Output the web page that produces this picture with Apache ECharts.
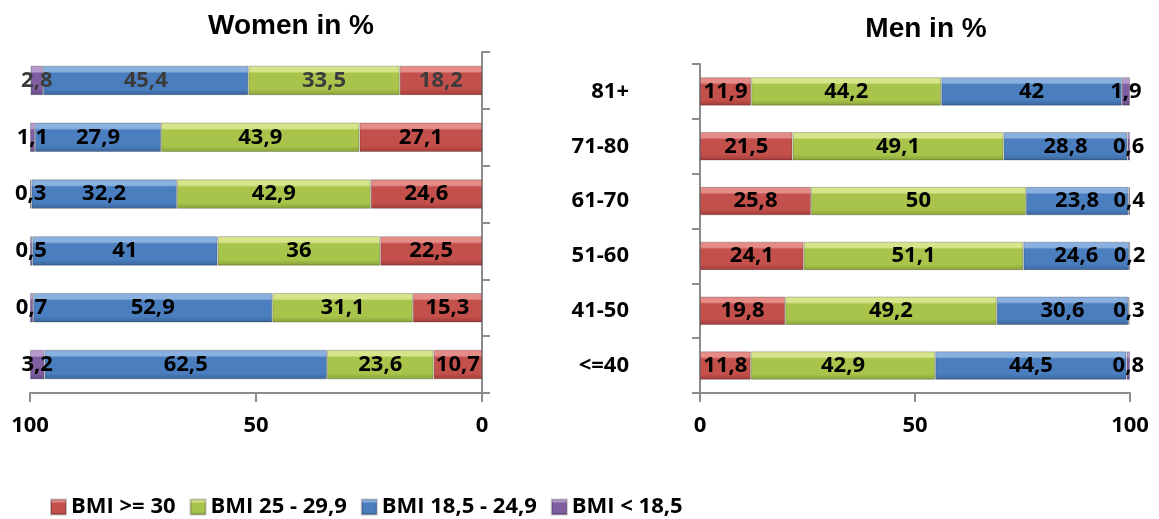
<!DOCTYPE html>
<html>
<head>
<meta charset="utf-8">
<script src="https://cdn.jsdelivr.net/npm/echarts@6/dist/echarts.min.js"></script>
<style>
html,body{margin:0;padding:0;background:#fff;}
#c{width:1159px;height:519px;}
</style>
</head>
<body>
<div id="c"></div>
<script>
var categories = ['<=40', '41-50', '51-60', '61-70', '71-80', '81+'];
var seriesNames = ['BMI >= 30', 'BMI 25 - 29,9', 'BMI 18,5 - 24,9', 'BMI < 18,5'];
var xTicks = [0, 50, 100];

// Women (order: <=40 ... 81+)
var womenObese     = [10.7, 15.3, 22.5, 24.6, 27.1, 18.2];
var womenOverweight= [23.6, 31.1, 36, 42.9, 43.9, 33.5];
var womenNormal    = [62.5, 52.9, 41, 32.2, 27.9, 45.4];
var womenUnder     = [3.2, 0.7, 0.5, 0.3, 1.1, 2.8];

// Men (order: <=40 ... 81+)
var menObese      = [11.8, 19.8, 24.1, 25.8, 21.5, 11.9];
var menOverweight = [42.9, 49.2, 51.1, 50, 49.1, 44.2];
var menNormal     = [44.5, 30.6, 24.6, 23.8, 28.8, 42];
var menUnder      = [0.8, 0.3, 0.2, 0.4, 0.6, 1.9];

var FONT = '"Open Sans", "Liberation Sans", sans-serif';

function grad(light, base, dark) {
  return new echarts.graphic.LinearGradient(0, 0, 0, 1, [
    {offset: 0, color: light},
    {offset: 0.2, color: light},
    {offset: 0.26, color: base},
    {offset: 0.8, color: base},
    {offset: 1, color: dark}
  ]);
}
var colors = [
  grad('#E58B88', '#C4504C', '#9E3A37'),
  grad('#D6E58C', '#A8C44A', '#86A03A'),
  grad('#8AB0E0', '#4A7EBE', '#3A649A'),
  grad('#B49BCB', '#7F5FA1', '#634883')
];

var womenData = [womenObese, womenOverweight, womenNormal, womenUnder];
var menData = [menObese, menOverweight, menNormal, menUnder];

function fmt(p) { return String(p.value).replace('.', ','); }

function mkSeries(dataArr, gridIdx, stackName) {
  return dataArr.map(function (arr, i) {
    return {
      name: seriesNames[i],
      type: 'bar',
      stack: stackName,
      xAxisIndex: gridIdx,
      yAxisIndex: gridIdx,
      barWidth: '52%',
      data: arr.map(function (v, j) {
        var item = {value: v};
        if (gridIdx === 0 && j === 5) {
          item.label = {color: '#3c3c3c'};
        }
        return item;
      }),
      itemStyle: {color: colors[i], borderColor: 'rgba(0,0,0,0.22)', borderWidth: 1},
      label: {
        show: true,
        position: 'inside',
        formatter: fmt,
        color: '#000',
        fontFamily: FONT,
        fontWeight: 'bold',
        fontSize: 22
      },
      emphasis: {disabled: true}
    };
  });
}

var axisLineStyle = {color: '#8c8c8c', width: 2};

var option = {
  backgroundColor: '#fff',
  animation: false,
  title: [
    {text: 'Women in %', left: 286, top: 7, textAlign: 'center',
     textStyle: {fontFamily: '"Liberation Sans", Arial, sans-serif', fontWeight: 'bold', fontSize: 28, color: '#000'}},
    {text: 'Men in %', left: 921, top: 10, textAlign: 'center',
     textStyle: {fontFamily: '"Liberation Sans", Arial, sans-serif', fontWeight: 'bold', fontSize: 28, color: '#000'}}
  ],
  legend: {
    left: 45,
    top: 491,
    itemWidth: 15,
    itemHeight: 15,
    itemGap: 14,
    icon: 'rect',
    data: seriesNames,
    textStyle: {fontFamily: FONT, fontWeight: 'bold', fontSize: 22, color: '#000'}
  },
  grid: [
    {left: 30, top: 52, width: 452, height: 341},
    {left: 700, top: 64, width: 430, height: 329}
  ],
  xAxis: [
    {
      gridIndex: 0, type: 'value', inverse: true, min: 0, max: 100, interval: 50,
      splitLine: {show: false},
      axisLine: {show: true, lineStyle: axisLineStyle},
      axisTick: {show: true, length: 9, lineStyle: axisLineStyle},
      axisLabel: {margin: 22, fontFamily: FONT, fontWeight: 'bold', fontSize: 22, color: '#000',
        formatter: function (v) { return xTicks.indexOf(v) >= 0 ? String(v) : ''; }}
    },
    {
      gridIndex: 1, type: 'value', min: 0, max: 100, interval: 50,
      splitLine: {show: false},
      axisLine: {show: true, lineStyle: axisLineStyle},
      axisTick: {show: true, length: 9, lineStyle: axisLineStyle},
      axisLabel: {margin: 22, fontFamily: FONT, fontWeight: 'bold', fontSize: 22, color: '#000',
        formatter: function (v) { return xTicks.indexOf(v) >= 0 ? String(v) : ''; }}
    }
  ],
  yAxis: [
    {
      gridIndex: 0, type: 'category', data: categories, position: 'right',
      axisLine: {show: true, lineStyle: axisLineStyle},
      axisTick: {show: true, length: 8, lineStyle: axisLineStyle},
      axisLabel: {show: false}
    },
    {
      gridIndex: 1, type: 'category', data: categories, position: 'left',
      axisLine: {show: true, lineStyle: axisLineStyle},
      axisTick: {show: true, length: 8, lineStyle: axisLineStyle},
      axisLabel: {margin: 71, fontFamily: FONT, fontWeight: 'bold', fontSize: 22, color: '#000'}
    }
  ],
  series: mkSeries(womenData, 0, 'women').concat(mkSeries(menData, 1, 'men'))
};

var chart = echarts.init(document.getElementById('c'), null, {renderer: 'canvas'});
chart.setOption(option);
</script>
</body>
</html>
